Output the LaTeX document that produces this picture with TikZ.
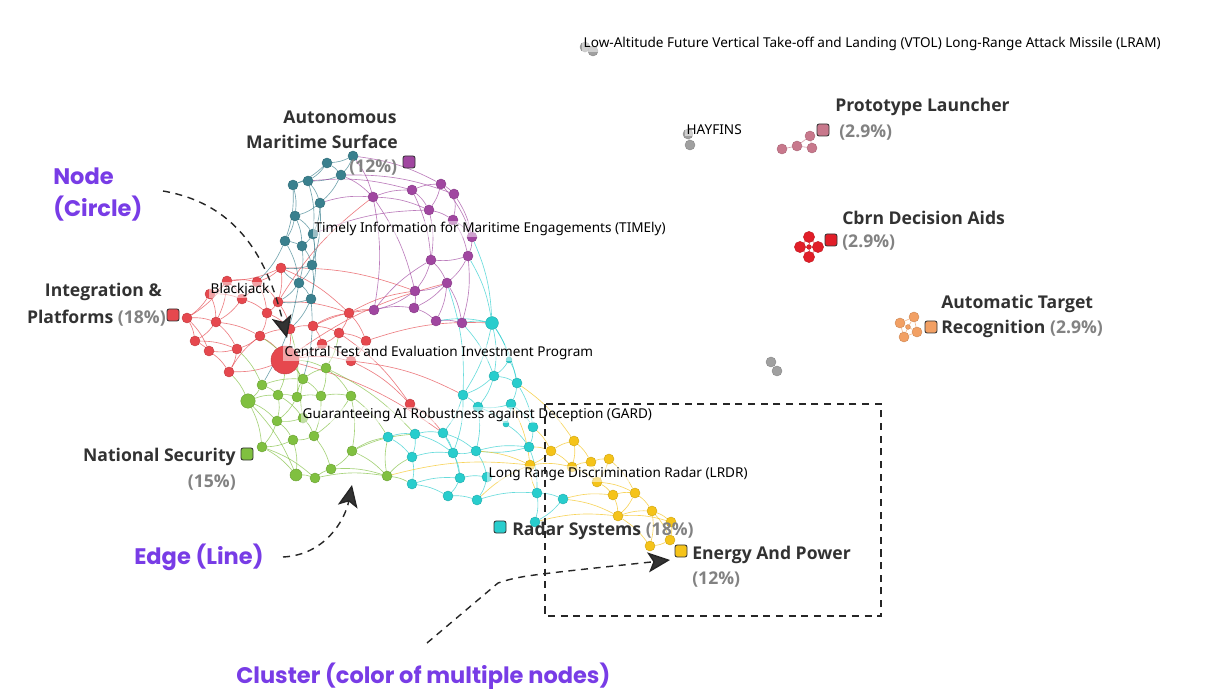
\documentclass[tikz,border=0pt]{standalone}
\usepackage{fontspec}
\setmainfont{Noto Sans}
\newfontfamily\clabfont{Open Sans}
\newfontfamily\annofont{Poppins}
\usetikzlibrary{arrows.meta,backgrounds}

\definecolor{redc}{RGB}{230,72,78}
\definecolor{tealc}{RGB}{58,128,142}
\definecolor{purpc}{RGB}{160,70,160}
\definecolor{cyanc}{RGB}{40,205,205}
\definecolor{greenc}{RGB}{128,192,64}
\definecolor{yellc}{RGB}{245,195,25}
\definecolor{pinkc}{RGB}{200,120,140}
\definecolor{cbrnc}{RGB}{225,30,40}
\definecolor{orangec}{RGB}{242,160,100}
\definecolor{grayc}{RGB}{160,160,160}
\definecolor{annoc}{RGB}{120,60,230}
\definecolor{pctc}{RGB}{130,130,130}
\definecolor{labc}{RGB}{50,50,50}

\tikzset{
  dot/.style={circle, inner sep=0pt, minimum size=0.25cm, fill=#1, draw=#1!85!black, line width=0.3pt},
  link/.style={draw=#1, line width=0.45pt, draw opacity=0.7},
  sq/.style={rounded corners=1.5pt, minimum size=0.3cm, inner sep=0pt, fill=#1, draw=black!80, line width=0.6pt},
  lab/.style={font=\fontsize{9.65}{11}\selectfont, text=black, inner sep=1pt, anchor=west, fill=white, fill opacity=0.5, text opacity=1},
  clab/.style={font=\clabfont\fontsize{12.5}{15}\selectfont\bfseries, text=labc, inner sep=0pt},
  anno/.style={font=\annofont\fontsize{16}{19}\selectfont\bfseries, text=annoc, inner sep=0pt, anchor=west},
  pointer/.style={draw=black!85, line width=1pt, dash pattern=on 5pt off 4pt, -{Stealth[length=0.55cm, width=0.5cm, inset=0.13cm, fill=black!80]}}
}

\begin{document}
\begin{tikzpicture}[x=0.025cm, y=-0.025cm]
\useasboundingbox (0,0) rectangle (1205,694);

% ---- nodes of the big clusters
\foreach \n/\x/\y in {r1/281/268, r2/227/281, r3/257/282, r4/210/294, r5/242/299, r6/278/302, r7/267/313, r8/187/318, r9/216/322, r10/290/329, r11/313/326, r12/349/313, r13/339/333, r14/260/336, r15/195/341, r16/237/349, r17/209/351, r18/322/344, r19/366/341, r20/229/372, r21/351/361, r22/410/404}
  \node[dot=redc] (\n) at (\x,\y) {};
\node[dot=redc, minimum size=0.7cm] (rc) at (285,360) {}; % central test node

\foreach \n/\x/\y in {t1/353/156, t2/327/163, t3/341/175, t4/293/185, t5/308/181, t6/320/203, t7/295/216, t8/313/234, t9/285/241, t10/302/246, t11/312/265, t12/299/283, t13/311/299}
  \node[dot=tealc] (\n) at (\x,\y) {};

\foreach \n/\x/\y in {p1/373/197, p2/412/190, p3/441/184, p4/454/194, p5/429/210, p6/453/220, p7/472/237, p8/468/256, p9/431/260, p10/447/283, p11/415/291, p12/374/310, p13/414/308, p14/436/321, p15/462/323}
  \node[dot=purpc] (\n) at (\x,\y) {};

\foreach \n/\x/\y in {c3/494/376, c4/517/383, c5/463/395, c6/511/404, c7/478/407, c8/533/427, c9/529/447, c10/388/437, c11/415/434, c12/443/433, c13/476/451, c14/453/453, c15/412/457, c16/460/478, c17/487/477, c18/412/484, c19/448/496, c20/477/500, c21/537/493, c22/563/499, c23/535/522}
  \node[dot=cyanc] (\n) at (\x,\y) {};
\node[dot=cyanc, minimum size=0.32cm] (c1) at (492,323) {};
\node[dot=cyanc, minimum size=0.15cm] (c2) at (509,360) {};
\node[dot=cyanc, minimum size=0.15cm] (c24) at (506,424) {};

\foreach \n/\x/\y in {g1/262/385, g3/278/395, g4/297/397, g5/303/379, g6/326/368, g7/321/396, g8/351/396, g9/277/421, g10/314/436, g11/293/440, g12/262/447, g13/352/451, g15/315/478, g16/331/469, g17/387/476, g18/303/418}
  \node[dot=greenc] (\n) at (\x,\y) {};
\node[dot=greenc, minimum size=0.36cm] (g2) at (248,401) {};
\node[dot=greenc, minimum size=0.3cm] (g14) at (296,475) {};

\foreach \n/\x/\y in {y1/551/451, y2/574/441, y3/530/465, y4/572/467, y5/591/462, y6/609/459, y7/597/482, y8/613/495, y9/635/493, y10/618/516, y11/652/511, y12/671/522, y13/670/540, y14/650/546}
  \node[dot=yellc] (\n) at (\x,\y) {};

% ---- small clusters on the right
\foreach \n/\x/\y in {k1/782/149, k2/797/146, k3/810/136, k4/812/148}
  \node[dot=pinkc] (\n) at (\x,\y) {};
\foreach \n/\x/\y in {b1/809/237, b2/800/247, b3/818/247, b4/809/257}
  \node[dot=cbrnc, minimum size=0.28cm] (\n) at (\x,\y) {};
\node[dot=cbrnc, minimum size=0.12cm] (b0) at (809,247) {};
\foreach \n/\x/\y in {o1/900/323, o2/914/317, o3/917/332, o4/904/337}
  \node[dot=orangec] (\n) at (\x,\y) {};
\node[dot=orangec, minimum size=0.12cm] (o0) at (908,327) {};
\foreach \n/\x/\y in {a1/585/47, a2/593/51, h1/688/134, h2/690/145, w1/771/362, w2/777/371}
  \node[dot=grayc] (\n) at (\x,\y) {};

% ---- edges, behind the nodes
\begin{scope}[on background layer]
\fill[white] (0,0) rectangle (1205,694);
\foreach \a/\b in {r1/r3, r1/r6, r1/r2, r2/r3, r2/r4, r2/r5, r3/r5, r3/r6, r3/r7, r4/r8, r4/r9, r4/r5, r5/r7, r5/r9, r6/r7, r6/r10, r7/r14, r7/r10, r8/r9, r8/r15, r9/r15, r9/r16, r9/r14, r10/r11, r10/rc, r11/r12, r11/r13, r11/r18, r12/r13, r13/r18, r13/r19, r14/r16, r14/rc, r15/r17, r16/r17, r16/r20, r17/r20, r18/rc, r18/r21, r19/r21, rc/r20, rc/r21, r21/r22, r13/r22, r1/r12, r2/r9, r8/r17, r14/r10, r12/r19, r6/r12, r20/r14, r15/r16, r22/c12, r21/c5, r19/c1, rc/c12, r11/p12, r12/p12, r1/p11, rc/p10, r12/p11, r6/p1, r2/r8}
  \draw[link=redc] (\a) to[bend left=10] (\b);
\foreach \a/\b in {t1/t2, t1/t3, t2/t3, t2/t5, t3/t5, t4/t5, t4/t7, t5/t6, t3/t6, t6/t7, t6/t8, t7/t8, t7/t9, t8/t10, t9/t10, t8/t11, t10/t11, t9/t12, t11/t12, t11/t13, t12/t13, t6/t11, t4/t9, t5/t8, t7/t10, t2/t4, t10/t12, t8/t13, t12/r1, t11/r1, t13/r6, t9/r3, t13/r10, t12/r6, t13/g5, t12/g1}
  \draw[link=tealc] (\a) to[bend left=10] (\b);
\foreach \a/\b in {p1/p2, p2/p3, p3/p4, p2/p5, p3/p5, p4/p6, p5/p6, p6/p7, p7/p8, p4/p7, p5/p9, p8/p9, p8/p10, p9/p10, p9/p11, p10/p11, p10/p13, p11/p13, p11/p12, p12/p13, p13/p14, p14/p15, p10/p15, p10/p14, p1/p5, p2/p9, p1/p11, p6/p8, p8/p15, p12/p9, p1/p12, p3/p7, t1/p1, t3/p1, t6/p1, t5/p2, t8/p5, t1/p3, t3/p4}
  \draw[link=purpc] (\a) to[bend left=10] (\b);
\foreach \a/\b in {c1/c3, c1/c2, c2/c3, c2/c4, c3/c4, c3/c5, c3/c7, c4/c6, c5/c7, c6/c7, c6/c8, c6/c24, c8/c9, c9/c13, c5/c12, c5/c14, c7/c13, c13/c14, c12/c14, c11/c12, c10/c11, c10/c15, c11/c15, c15/c18, c12/c16, c14/c16, c16/c17, c13/c17, c16/c19, c17/c20, c19/c20, c18/c19, c20/c21, c21/c22, c9/c21, c21/c23, c22/c23, c15/c14, c11/c14, c24/c9, c7/c24, c13/c9, c1/c5, c18/c16, c12/c13, p14/c1, p15/c1, p15/c3, p8/c1, p10/c5, p7/c1, c1/c4, c4/c8}
  \draw[link=cyanc] (\a) to[bend left=10] (\b);
\foreach \a/\b in {g1/g2, g1/g3, g2/g3, g3/g4, g4/g5, g5/g6, g4/g7, g5/g7, g6/g7, g7/g8, g6/g8, g3/g9, g4/g9, g9/g11, g9/g12, g10/g11, g7/g10, g8/g10, g11/g12, g11/g14, g12/g14, g14/g15, g15/g16, g10/g16, g13/g16, g8/g13, g13/g17, g16/g17, g2/g9, g2/g12, g18/g10, g18/g9, g18/g5, g15/g17, g1/g5, g3/g18, rc/g5, rc/g3, r20/g2, r16/g1, r14/g5, rc/g6, r13/g6, r10/g4, g8/c10, g13/c10, g17/c10, g17/c15, g17/c18, g13/c11, g6/c11, g2/g14, g12/g15}
  \draw[link=greenc] (\a) to[bend left=10] (\b);
\foreach \a/\b in {y1/y2, y1/y3, y1/y4, y2/y4, y2/y5, y4/y5, y5/y6, y4/y7, y5/y7, y6/y7, y6/y9, y7/y8, y8/y9, y8/y10, y9/y10, y9/y11, y10/y11, y11/y12, y10/y14, y11/y13, y12/y13, y13/y14, y11/y14, y3/y4, y7/y9, y10/y12, c9/y1, c8/y1, c13/y3, c21/y3, c22/y8, c23/y10, c20/y3, c4/y2, c6/y3, g17/y3, c22/y10}
  \draw[link=yellc] (\a) to[bend left=10] (\b);
\foreach \a/\b in {k1/k2, k2/k3, k2/k4, k3/k4}
  \draw[link=pinkc] (\a) -- (\b);
\foreach \a/\b in {b1/b0, b2/b0, b3/b0, b4/b0, b1/b2, b1/b3, b2/b4, b3/b4}
  \draw[link=cbrnc] (\a) -- (\b);
\foreach \a/\b in {o1/o0, o2/o0, o3/o0, o4/o0, o1/o2, o2/o3, o3/o4, o4/o1}
  \draw[link=orangec] (\a) -- (\b);
\foreach \a/\b in {a1/a2, h1/h2, w1/w2}
  \draw[link=grayc] (\a) -- (\b);
\end{scope}

% ---- node labels
\node[lab] (timely) at (313,229) {Timely Information for Maritime Engagements (TIMEly)};
\node[lab] (blackjack) at (209,290) {Blackjack};
\node[lab] (ctei) at (283,353) {Central Test and Evaluation Investment Program};
\node[lab] (gard) at (301,415) {Guaranteeing AI Robustness against Deception (GARD)};
\node[lab] (lrdr) at (487,474) {Long Range Discrimination Radar (LRDR)};
\node[lab] (hayfins) at (685,130) {HAYFINS};
\node[lab] (lram) at (582,44) {Low-Altitude Future Vertical Take-off and Landing (VTOL) Long-Range Attack Missile (LRAM)};

% ---- cluster labels
\node[clab] (amsA) at (340,117) {Autonomous};
\node[clab] (amsB) at (322,142) {Maritime Surface};
\node[clab, anchor=west, text=pctc] (amsP) at (349,168) {(12\%)};
\node[sq=purpc] (amsQ) at (409,162) {};

\node[clab, anchor=east] (intA) at (162,292) {Integration \&};
\node[clab, anchor=east] (intB) at (166,318) {Platforms \textcolor{pctc}{(18\%)}};
\node[sq=redc] (intQ) at (173,315) {};

\node[clab, anchor=east] (natA) at (236,457) {National Security};
\node[clab, anchor=east, text=pctc] (natP) at (236,483) {(15\%)};
\node[sq=greenc] (natQ) at (247,454) {};

\node[sq=cyanc] (radQ) at (500,527) {};
\node[clab, anchor=west] (radA) at (512,531) {Radar Systems \textcolor{pctc}{(18\%)}};

\node[sq=yellc] (engQ) at (681,551) {};
\node[clab, anchor=west] (engA) at (692,555) {Energy And Power};
\node[clab, anchor=west, text=pctc] (engP) at (692,580) {(12\%)};

\node[sq=pinkc] (proQ) at (823,130) {};
\node[clab, anchor=west] (proA) at (835,107) {Prototype Launcher};
\node[clab, anchor=west, text=pctc] (proP) at (839,133) {(2.9\%)};

\node[sq=cbrnc] (cbrQ) at (831,240) {};
\node[clab, anchor=west] (cbrA) at (842,218) {Cbrn Decision Aids};
\node[clab, anchor=west, text=pctc] (cbrP) at (842,243) {(2.9\%)};

\node[sq=orangec] (atrQ) at (931,327) {};
\node[clab, anchor=west] (atrA) at (941,304) {Automatic Target};
\node[clab, anchor=west] (atrB) at (941,329) {Recognition \textcolor{pctc}{(2.9\%)}};

% ---- annotations
\node[anno] (nodeA) at (53,176) {Node};
\node[anno] (nodeB) at (53,209) {(Circle)};
\node[anno] (edgeA) at (134,557) {Edge (Line)};
\node[anno] (clusA) at (236,676) {Cluster (color of multiple nodes)};

\coordinate (nodeS) at (163,191);
\coordinate (nodeT) at (287,338);
\coordinate (edgeS) at (283,557);
\coordinate (edgeT) at (352,485);
\coordinate (clusS) at (427,643);
\coordinate (clusM) at (498,583);
\coordinate (clusT) at (670,560);

\draw[pointer] (nodeS) .. controls (245,205) and (270,270) .. (nodeT);
\draw[pointer] (edgeS) .. controls (325,555) and (345,520) .. (edgeT);
\draw[pointer] (clusS) -- (clusM) .. controls (520,576) .. (clusT);

% cluster frame
\draw[black!85, line width=1pt, dash pattern=on 5pt off 4pt] (545,404) rectangle (881,616);

\end{tikzpicture}
\end{document}
